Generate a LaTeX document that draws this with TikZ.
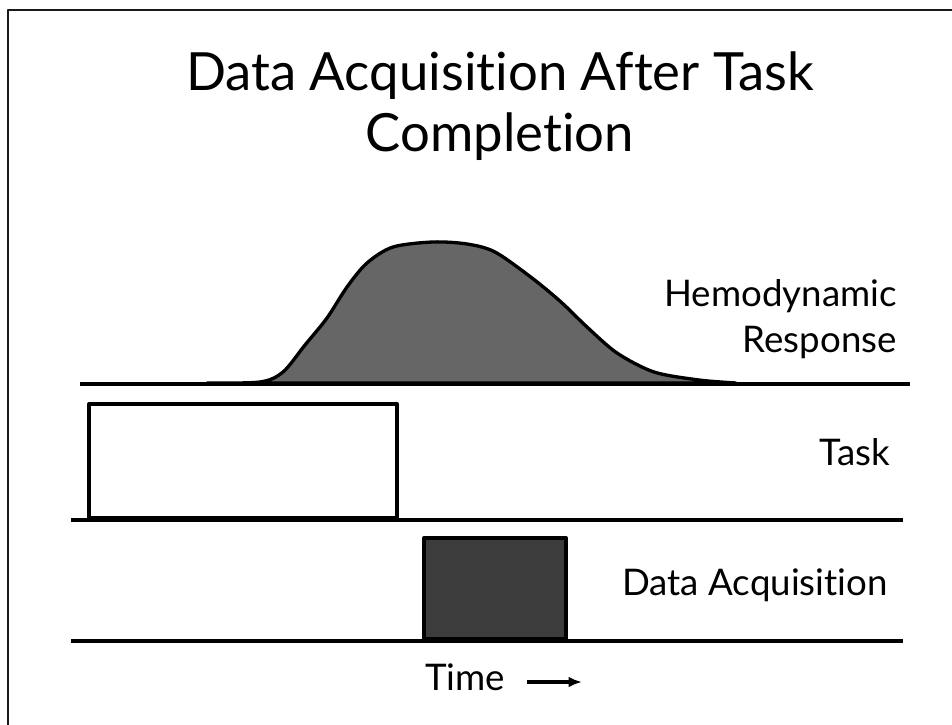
\documentclass[tikz,border=0pt]{standalone}
\usepackage{fontspec}
\setmainfont{Lato}[Ligatures={NoCommon,NoRequired,NoContextual}]
\usetikzlibrary{positioning,arrows.meta}
\definecolor{respgray}{HTML}{666666}
\definecolor{acqgray}{HTML}{3C3C3C}

\begin{document}
\begin{tikzpicture}[x=0.75pt,y=-0.75pt,line join=round,
    lbl/.style={font=\fontsize{27.5}{34}\selectfont,inner sep=0pt},
    rowline/.style={line width=3pt},
    blockbox/.style={draw,line width=3pt,inner sep=0pt}]
    \useasboundingbox (0,0) rectangle (952,724);
    \draw[line width=1.5pt,black!90] (8,10) rectangle (980,750);

    % Title
    \node[align=center,inner sep=0pt,font=\fontsize{39.5}{46}\selectfont] (TTL) at (500,106) {Data Acquisition After Task\\Completion};

    % Response curve
    \draw[fill=respgray,line width=2.5pt] plot[smooth,tension=0.5] coordinates {(207,383) (260,382) (283,372) (305,345) (327,318) (347,287) (367,263) (393,247) (433,242) (467,244) (495,252) (532,278) (561,302) (587,327) (617,353) (654,372) (699,380) (736,383)} -- cycle;

    % Rows
    \coordinate (R1a) at (80,384);  \coordinate (R1b) at (910,384);
    \coordinate (R2a) at (71,520);  \coordinate (R2b) at (903,520);
    \coordinate (R3a) at (71,641);  \coordinate (R3b) at (903,641);
    \node[blockbox,fill=white,minimum width=231pt,minimum height=85.5pt] (TASK) at (243,461) {};
    \node[blockbox,fill=acqgray,minimum width=106.5pt,minimum height=75.75pt] (ACQ) at (495,588.5) {};
    \draw[rowline] (R1a) -- (R1b);
    \draw[rowline] (R2a) -- (R2b);
    \draw[rowline] (R3a) -- (R3b);

    % Labels
    \node[lbl,align=right,anchor=east] (HR) at (897,319) {Hemodynamic\\Response};
    \node[lbl,anchor=base east] (TK) at (890,465) {Task};
    \node[lbl,anchor=base east] (DA) at (888,595) {Data Acquisition};

    % Time arrow
    \node[lbl,anchor=base west] (TM) at (425,690) {Time};
    \coordinate (TS) at (527,682);
    \coordinate (TE) at (582,682);
    \draw[-{Latex[length=10pt,width=8pt]},line width=3pt] (TS) -- (TE);
\end{tikzpicture}
\end{document}
